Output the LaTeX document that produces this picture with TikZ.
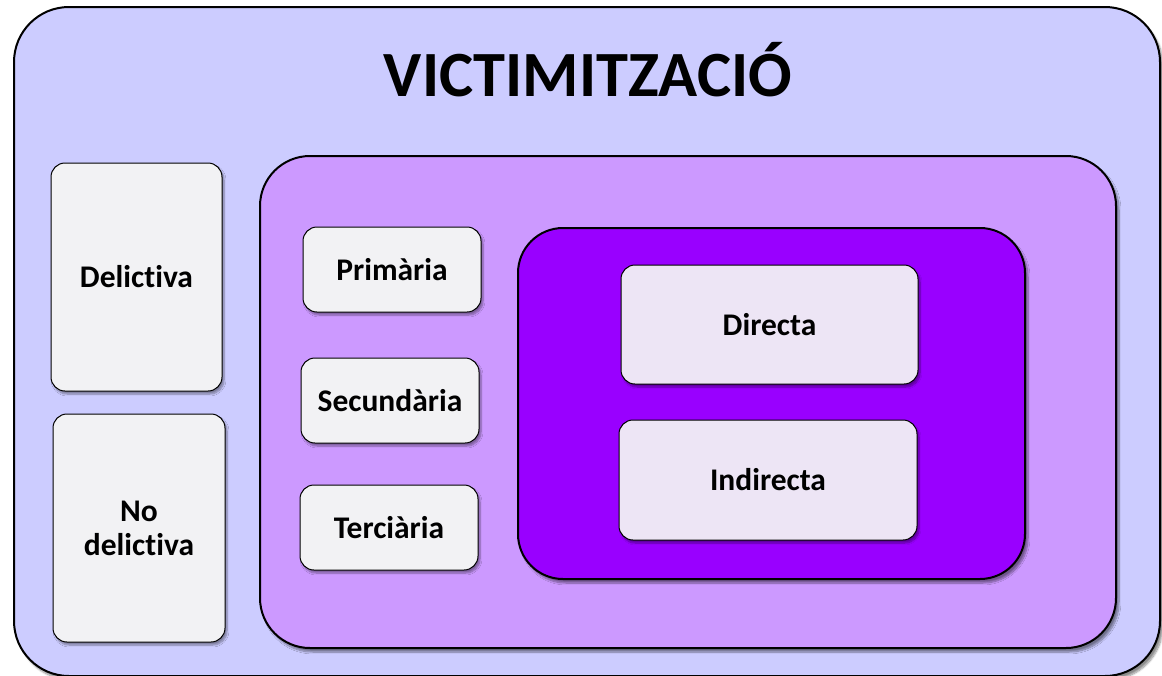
\documentclass[tikz,border=0pt]{standalone}
\usepackage{fontspec}
\setmainfont[Ligatures={NoCommon,NoRare}]{Carlito}
\usetikzlibrary{shadows.blur}
\definecolor{outerc}{HTML}{CCCCFF}
\definecolor{midc}{HTML}{CC99FF}
\definecolor{innerc}{HTML}{9900FF}
\definecolor{boxc}{HTML}{F2F2F4}
\definecolor{boxp}{HTML}{EDE5F5}
\tikzset{
  big/.style={draw=black, line width=2pt, rounded corners=#1, blur shadow={shadow xshift=3pt, shadow yshift=-4pt, shadow blur steps=8, shadow opacity=45}, inner sep=0pt},
  card/.style={draw=black, line width=1pt, rounded corners=14pt, fill=boxc, blur shadow={shadow xshift=2pt, shadow yshift=-3pt, shadow blur steps=6, shadow opacity=40}, inner sep=0pt, align=center, font=\bfseries\fontsize{31.5}{34}\selectfont},
}
\begin{document}
\begin{tikzpicture}[x=1pt,y=-1pt]
\useasboundingbox (0,0) rectangle (1162,675);
\node[big=55pt, fill=outerc, minimum width=1146pt, minimum height=669pt] (outer) at (587,341.5) {};
\node[font=\bfseries\fontsize{64.5}{70}\selectfont, anchor=base] (title) at (588,96) {VICTIMITZACIÓ};
\node[card, minimum width=171pt, minimum height=228pt] (del) at (136.5,277) {Delictiva};
\node[card, minimum width=172pt, minimum height=228pt] (nodel) at (139,528) {No\\delictiva};
\node[big=50pt, fill=midc, minimum width=856pt, minimum height=492pt] (mid) at (688,402) {};
\node[card, minimum width=178pt, minimum height=85pt] (prim) at (392,269.5) {Primària};
\node[card, minimum width=178pt, minimum height=85pt] (sec) at (390,400.5) {Secundària};
\node[card, minimum width=178pt, minimum height=85pt] (ter) at (389,527.5) {Terciària};
\node[big=45pt, fill=innerc, minimum width=507pt, minimum height=351pt] (inner) at (771.5,403.5) {};
\node[card, fill=boxp, minimum width=297pt, minimum height=119pt] (dir) at (769.5,324.5) {Directa};
\node[card, fill=boxp, minimum width=298pt, minimum height=120pt] (ind) at (768,480) {Indirecta};
\end{tikzpicture}
\end{document}
